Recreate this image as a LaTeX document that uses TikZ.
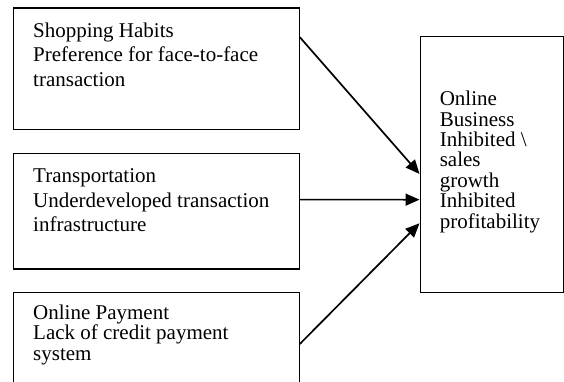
\documentclass[tikz,border=0pt]{standalone}
\usepackage{fontspec}
\setmainfont{Liberation Serif}
\usetikzlibrary{arrows.meta}

\tikzset{
    factorbox/.style={draw, line width=1.2pt, anchor=north west, inner sep=0pt, minimum width=286pt},
    factortext/.style={anchor=base west, align=left, inner sep=0pt, font=\fontsize{21}{24.5}\selectfont},
    tighttext/.style={anchor=base west, align=left, inner sep=0pt, font=\fontsize{21}{20.4}\selectfont},
    effectarrow/.style={line width=1.7pt, -{Triangle[length=14pt,width=12pt]}}
}

\begin{document}
\begin{tikzpicture}[x=1pt, y=-1pt]

            \useasboundingbox (0,0) rectangle (564,381);
            \clip (0,0) rectangle (564,381);

            % boxes
            \node [factorbox, minimum height=121.7pt] (habits) at (12.7,7.3) {};
            \node [factorbox, minimum height=115.6pt] (transport) at (12.7,152.7) {};
            \node [factorbox, minimum height=130pt] (payment) at (12.7,291.7) {};
            \node [draw, line width=1.2pt, anchor=north west, inner sep=0pt,
                   minimum width=143pt, minimum height=255.7pt] (business) at (419.5,36) {};

            % texts (placed at the baseline of their last line)
            \node [factortext] (habitstext) at (33,86) {Shopping Habits\\Preference for face-to-face\\transaction};
            \node [factortext] (transporttext) at (33,231.7) {Transportation\\Underdeveloped transaction\\infrastructure};
            \node [tighttext] (paymenttext) at (33,360) {Online Payment\\Lack of credit payment\\system};
            \node [tighttext] (businesstext) at (439.6,228) {Online\\Business\\Inhibited \textbackslash\\sales\\growth\\Inhibited\\profitability};

            % arrows
            \draw [effectarrow] ([yshift=31.5pt]habits.east) -- ([yshift=-9.5pt]business.west);
            \draw [effectarrow] ([yshift=11.5pt]transport.east) -- ([yshift=-35.2pt]business.west);
            \draw [effectarrow] ([yshift=13.4pt]payment.east) -- ([yshift=-58.8pt]business.west);

\end{tikzpicture}
\end{document}
